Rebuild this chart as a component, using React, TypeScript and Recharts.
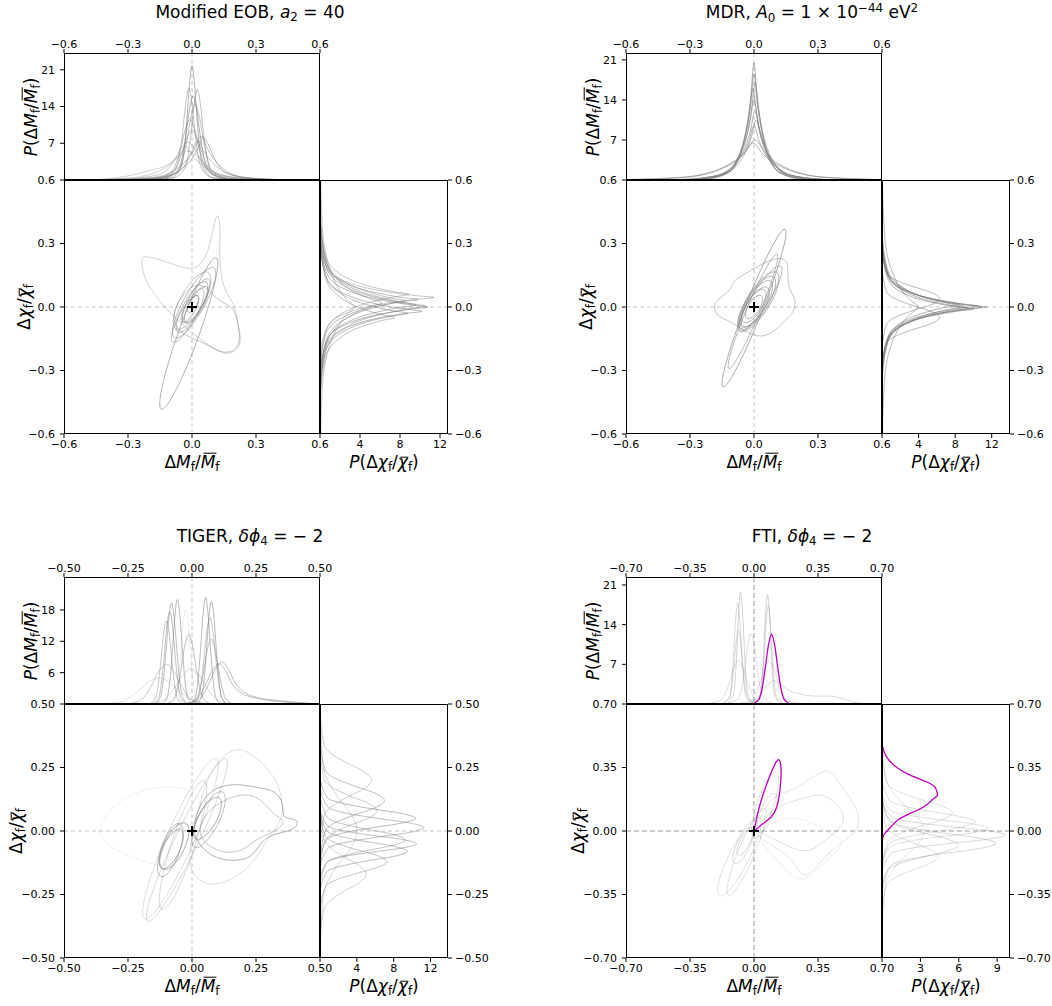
import React from "react";
import { ComposedChart, Scatter, XAxis, YAxis, ReferenceLine } from "recharts";

type Pt = [number, number];
type Curve = Pt[];

// ---------- Modified EOB, a2 = 40 ----------
const eobContours: Curve[] = [
  [[-0.24, 0.245], [-0.17, 0.23], [-0.08, 0.2], [0.0, 0.17], [0.07, 0.22], [0.105, 0.4], [0.12, 0.45], [0.135, 0.38], [0.125, 0.22], [0.15, 0.07], [0.2, 0.02], [0.215, -0.08], [0.235, -0.17], [0.2, -0.215], [0.14, -0.225], [0.05, -0.16], [-0.04, -0.09], [-0.12, -0.01], [-0.185, 0.07], [-0.225, 0.14], [-0.235, 0.2]],
  [[0.12, 0.25], [0.125, 0.19], [0.093, 0.048], [0.032, -0.142], [-0.041, -0.327], [-0.108, -0.458], [-0.15, -0.5], [-0.155, -0.44], [-0.123, -0.298], [-0.062, -0.108], [0.0115, 0.077], [0.078, 0.208]],
  [[0.112, 0.203], [0.116, 0.13], [0.058, -0.007], [-0.028, -0.128], [-0.092, -0.163], [-0.096, -0.09], [-0.038, 0.047], [0.048, 0.168]],
  [[0.083, 0.178], [0.095, 0.114], [0.052, 0.001], [-0.022, -0.095], [-0.083, -0.118], [-0.095, -0.054], [-0.052, 0.059], [0.022, 0.155]],
  [[0.073, 0.131], [0.079, 0.077], [0.039, -0.022], [-0.024, -0.108], [-0.073, -0.131], [-0.079, -0.077], [-0.039, 0.022], [0.024, 0.108]],
  [[0.074, 0.106], [0.08, 0.066], [0.051, -0.007], [0.004, -0.07], [-0.034, -0.086], [-0.04, -0.046], [-0.011, 0.027], [0.036, 0.09]],
  [[0.029, 0.06], [0.035, 0.03], [0.014, -0.024], [-0.021, -0.069], [-0.049, -0.08], [-0.055, -0.05], [-0.034, 0.004], [0.001, 0.049]],
  [[0.029, 0.059], [0.034, 0.039], [0.022, 0.005], [0.0, -0.023], [-0.019, -0.029], [-0.024, -0.009], [-0.012, 0.025], [0.01, 0.053]],
  [[-0.05, 0.05], [0.02, 0.12], [0.08, 0.08], [0.12, 0.03], [0.2, 0.0], [0.215, -0.08], [0.23, -0.16], [0.2, -0.21], [0.14, -0.22], [0.06, -0.17], [-0.02, -0.14], [-0.08, -0.1], [-0.09, -0.02]],
  [[0.083, 0.143], [0.089, 0.096], [0.055, 0.011], [0.0, -0.063], [-0.043, -0.083], [-0.049, -0.036], [-0.015, 0.049], [0.04, 0.123]],
  [[0.058, 0.1], [0.06, 0.046], [0.015, -0.059], [-0.05, -0.152], [-0.098, -0.18], [-0.1, -0.126], [-0.055, -0.021], [0.01, 0.072]],
];
const eobContourAlpha = [0.35, 0.6, 0.55, 0.45, 0.6, 0.55, 0.6, 0.6, 0.45, 0.55, 0.5];

const eobTop: Curve[] = [
  [[-0.2, 0], [-0.1, 0.4], [-0.05, 2.6], [-0.025, 10.9], [-0.0125, 18], [0, 21.8], [0.0125, 18], [0.025, 10.9], [0.05, 2.6], [0.1, 0.4], [0.2, 0]],
  [[-0.255, 0], [-0.135, 0.35], [-0.075, 2.1], [-0.045, 8.8], [-0.03, 14.5], [-0.015, 17.5], [0, 14.5], [0.015, 8.8], [0.045, 2.1], [0.105, 0.35], [0.225, 0]],
  [[-0.215, 0], [-0.095, 0.35], [-0.035, 2.1], [-0.005, 8.6], [0.01, 14.3], [0.025, 17.2], [0.04, 14.3], [0.055, 8.6], [0.085, 2.1], [0.145, 0.35], [0.265, 0]],
  [[-0.275, 0], [-0.135, 0.3], [-0.065, 1.9], [-0.03, 8], [-0.0125, 13.3], [0.005, 16], [0.0225, 13.3], [0.04, 8], [0.075, 1.9], [0.145, 0.3], [0.285, 0]],
  [[-0.3, 0], [-0.145, 0.3], [-0.065, 1.7], [-0.025, 7.2], [-0.005, 12], [0.015, 14.5], [0.035, 12], [0.055, 7.2], [0.095, 1.7], [0.175, 0.3], [0.33, 0]],
  [[-0.37, 0], [-0.19, 0.25], [-0.1, 1.4], [-0.055, 5.7], [-0.0325, 9.5], [-0.01, 11.5], [0.0125, 9.5], [0.035, 5.7], [0.08, 1.4], [0.17, 0.25], [0.35, 0]],
  [[-0.4, 0], [-0.195, 0.3], [-0.075, 1.2], [-0.015, 4.1], [0.015, 6.9], [0.045, 8.3], [0.075, 6.9], [0.105, 4.1], [0.165, 1.2], [0.285, 0.3], [0.5, 0]],
  [[-0.5, 0], [-0.28, 0.3], [-0.15, 1.1], [-0.085, 3.6], [-0.0525, 6], [-0.02, 7.2], [0.0125, 6], [0.045, 3.6], [0.11, 1.1], [0.24, 0.3], [0.45, 0]],
  [[-0.5, 0], [-0.34, 0.5], [-0.2, 1.8], [-0.1, 3.2], [-0.06, 4.6], [-0.02, 5.5], [0.02, 4.6], [0.06, 3], [0.14, 0.9], [0.28, 0.2], [0.45, 0]],
  [[-0.4, 0], [-0.2, 0.2], [-0.1, 1.1], [-0.05, 4.8], [-0.025, 7.9], [0, 9.5], [0.025, 7.9], [0.05, 4.8], [0.1, 1.1], [0.2, 0.2], [0.4, 0]],
  [[-0.41, 0], [-0.19, 0.47], [-0.08, 1.9], [-0.025, 3.75], [0.0025, 5.3], [0.01625, 6.3], [0.03, 7.5], [0.04375, 6.3], [0.0575, 5.3], [0.085, 3.75], [0.14, 1.9], [0.25, 0.47], [0.47, 0]],
  [[-0.55, 0], [-0.29, 0.4], [-0.16, 1.6], [-0.095, 3.25], [-0.0625, 4.6], [-0.04625, 5.5], [-0.03, 6.5], [-0.01375, 5.5], [0.0025, 4.6], [0.035, 3.25], [0.1, 1.6], [0.23, 0.4], [0.49, 0]],
  [[-0.35, 0], [-0.15, 0.5], [-0.05, 2.05], [0.0, 4.1], [0.025, 5.8], [0.0375, 6.9], [0.05, 8.2], [0.0625, 6.9], [0.075, 5.8], [0.1, 4.1], [0.15, 2.05], [0.25, 0.5], [0.45, 0]],
];
const eobTopAlpha = [0.6, 0.45, 0.5, 0.6, 0.5, 0.55, 0.5, 0.45, 0.35, 0.5, 0.45, 0.4, 0.5];

const eobSide: Curve[] = [
  [[-0.32, 0], [-0.16, 0.68], [-0.08, 2.7], [-0.04, 5.4], [-0.02, 7.7], [-0.01, 9.1], [0, 10.8], [0.01, 9.1], [0.02, 7.7], [0.04, 5.4], [0.08, 2.7], [0.16, 0.68], [0.32, 0]],
  [[-0.235, 0], [-0.095, 0.71], [-0.025, 2.85], [0.01, 5.7], [0.0275, 8.1], [0.03625, 9.6], [0.045, 11.4], [0.05375, 9.6], [0.0625, 8.1], [0.08, 5.7], [0.115, 2.85], [0.185, 0.71], [0.325, 0]],
  [[-0.39, 0], [-0.21, 0.55], [-0.12, 2.2], [-0.075, 4.4], [-0.0525, 6.2], [-0.04125, 7.4], [-0.03, 8.8], [-0.01875, 7.4], [-0.0075, 6.2], [0.015, 4.4], [0.06, 2.2], [0.15, 0.55], [0.33, 0]],
  [[-0.35, 0], [-0.17, 0.6], [-0.08, 2.4], [-0.035, 4.8], [-0.0125, 6.8], [-0.00125, 8.1], [0.01, 9.6], [0.02125, 8.1], [0.0325, 6.8], [0.055, 4.8], [0.1, 2.4], [0.19, 0.6], [0.37, 0]],
  [[-0.37, 0], [-0.17, 0.53], [-0.07, 2.1], [-0.02, 4.25], [0.005, 6], [0.0175, 7.1], [0.03, 8.5], [0.0425, 7.1], [0.055, 6], [0.08, 4.25], [0.13, 2.1], [0.23, 0.53], [0.43, 0]],
  [[-0.34, 0], [-0.18, 0.64], [-0.1, 2.55], [-0.06, 5.1], [-0.04, 7.2], [-0.03, 8.6], [-0.02, 10.2], [-0.01, 8.6], [0.0, 7.2], [0.02, 5.1], [0.06, 2.55], [0.14, 0.64], [0.3, 0]],
  [[-0.8, 0], [-0.4, 0.21], [-0.2, 0.85], [-0.1, 1.7], [-0.05, 2.4], [-0.025, 2.9], [0, 3.4], [0.025, 2.9], [0.05, 2.4], [0.1, 1.7], [0.2, 0.85], [0.4, 0.21], [0.8, 0]],
  [[-0.46, 0], [-0.22, 0.39], [-0.1, 1.55], [-0.04, 3.1], [-0.01, 4.4], [0.005, 5.2], [0.02, 6.2], [0.035, 5.2], [0.05, 4.4], [0.08, 3.1], [0.14, 1.55], [0.26, 0.39], [0.5, 0]],
  [[-0.45, 0], [-0.25, 0.47], [-0.15, 1.9], [-0.1, 3.75], [-0.075, 5.3], [-0.0625, 6.3], [-0.05, 7.5], [-0.0375, 6.3], [-0.025, 5.3], [0.0, 3.75], [0.05, 1.9], [0.15, 0.47], [0.35, 0]],
  [[-0.285, 0], [-0.125, 0.61], [-0.045, 2.45], [-0.005, 4.9], [0.015, 7], [0.025, 8.2], [0.035, 9.8], [0.045, 8.2], [0.055, 7], [0.075, 4.9], [0.115, 2.45], [0.195, 0.61], [0.355, 0]],
  [[-0.395, 0], [-0.195, 0.66], [-0.095, 2.6], [-0.045, 5.25], [-0.02, 7.5], [-0.0075, 8.8], [0.005, 10.5], [0.0175, 8.8], [0.03, 7.5], [0.055, 5.25], [0.105, 2.6], [0.205, 0.66], [0.405, 0]],
  [[-0.3, 0], [-0.12, 0.56], [-0.03, 2.2], [0.015, 4.45], [0.0375, 6.3], [0.04875, 7.5], [0.06, 8.9], [0.07125, 7.5], [0.0825, 6.3], [0.105, 4.45], [0.15, 2.2], [0.24, 0.56], [0.42, 0]],
];
const eobSideAlpha = [0.6, 0.45, 0.55, 0.55, 0.5, 0.55, 0.45, 0.45, 0.5, 0.5, 0.5, 0.45];

// ---------- MDR ----------
const mdrContours: Curve[] = [
  [[0.161, 0.408], [0.1435, 0.276], [0.042, -0.021], [-0.084, -0.308], [-0.161, -0.418], [-0.1435, -0.286], [-0.042, 0.011], [0.084, 0.298]],
  [[0.12, 0.28], [0.106, 0.183], [0.027, -0.033], [-0.071, -0.241], [-0.13, -0.32], [-0.116, -0.223], [-0.037, -0.007], [0.061, 0.201]],
  [[-0.193, 0.011], [-0.177, -0.044], [-0.107, -0.068], [-0.045, -0.116], [0.033, -0.148], [0.095, -0.116], [0.15, -0.06], [0.191, -0.02], [0.196, 0.043], [0.157, 0.09], [0.16, 0.17], [0.157, 0.225], [0.11, 0.233], [0.048, 0.21], [-0.045, 0.154], [-0.1, 0.125], [-0.107, 0.08], [-0.162, 0.043]],
  [[0.115, 0.178], [0.123, 0.111], [0.071, -0.007], [-0.011, -0.106], [-0.075, -0.128], [-0.083, -0.061], [-0.031, 0.057], [0.051, 0.156]],
  [[0.084, 0.134], [0.092, 0.081], [0.052, -0.011], [-0.013, -0.088], [-0.064, -0.104], [-0.072, -0.051], [-0.032, 0.041], [0.033, 0.118]],
  [[0.053, 0.09], [0.062, 0.05], [0.034, -0.016], [-0.013, -0.07], [-0.053, -0.08], [-0.062, -0.04], [-0.034, 0.026], [0.013, 0.08]],
  [[0.037, 0.059], [0.044, 0.03], [0.025, -0.016], [-0.008, -0.053], [-0.037, -0.059], [-0.044, -0.03], [-0.025, 0.016], [0.008, 0.053]],
  [[0.136, 0.21], [0.132, 0.143], [0.068, 0.016], [-0.018, -0.097], [-0.076, -0.13], [-0.072, -0.063], [-0.008, 0.064], [0.078, 0.177]],
  [[0.099, 0.156], [0.108, 0.096], [0.062, -0.009], [-0.011, -0.097], [-0.069, -0.116], [-0.078, -0.056], [-0.032, 0.049], [0.041, 0.137]],
  [[0.068, 0.102], [0.076, 0.055], [0.043, -0.024], [-0.013, -0.089], [-0.058, -0.102], [-0.066, -0.055], [-0.033, 0.024], [0.023, 0.089]],
];
const mdrContourAlpha = [0.65, 0.55, 0.45, 0.6, 0.6, 0.6, 0.6, 0.55, 0.6, 0.6];

const mdrTop: Curve[] = [
  [[-0.24, 0], [-0.12, 1.3], [-0.06, 5.1], [-0.03, 10.3], [-0.015, 14.6], [0, 20.5], [0.015, 14.6], [0.03, 10.3], [0.06, 5.1], [0.12, 1.3], [0.24, 0]],
  [[-0.256, 0], [-0.128, 1.2], [-0.064, 4.6], [-0.032, 9.3], [-0.016, 13.1], [0, 18.5], [0.016, 13.1], [0.032, 9.3], [0.064, 4.6], [0.128, 1.2], [0.256, 0]],
  [[-0.275, 0], [-0.135, 1.1], [-0.065, 4.3], [-0.03, 8.5], [-0.0125, 12.1], [0.005, 17], [0.0225, 12.1], [0.04, 8.5], [0.075, 4.3], [0.145, 1.1], [0.285, 0]],
  [[-0.285, 0], [-0.145, 1.0], [-0.075, 4], [-0.04, 8], [-0.0225, 11.4], [-0.005, 16], [0.0125, 11.4], [0.03, 8], [0.065, 4], [0.135, 1.0], [0.275, 0]],
  [[-0.32, 0], [-0.16, 0.9], [-0.08, 3.5], [-0.04, 7], [-0.02, 9.9], [0, 14], [0.02, 9.9], [0.04, 7], [0.08, 3.5], [0.16, 0.9], [0.32, 0]],
  [[-0.355, 0], [-0.175, 0.75], [-0.085, 3], [-0.04, 6], [-0.0175, 8.5], [0.005, 12], [0.0275, 8.5], [0.05, 6], [0.095, 3], [0.185, 0.75], [0.365, 0]],
  [[-0.4, 0], [-0.2, 0.6], [-0.1, 2.4], [-0.05, 4.75], [-0.025, 6.7], [0, 9.5], [0.025, 6.7], [0.05, 4.75], [0.1, 2.4], [0.2, 0.6], [0.4, 0]],
  [[-0.675, 0], [-0.335, 0.44], [-0.165, 1.75], [-0.08, 3.5], [-0.0375, 5], [0.005, 7], [0.0475, 5], [0.09, 3.5], [0.175, 1.75], [0.345, 0.44], [0.685, 0]],
  [[-0.725, 0], [-0.365, 0.4], [-0.185, 1.6], [-0.095, 3.25], [-0.05, 4.6], [-0.005, 6.5], [0.04, 4.6], [0.085, 3.25], [0.175, 1.6], [0.355, 0.4], [0.715, 0]],
  [[-0.35, 0], [-0.17, 0.66], [-0.08, 2.6], [-0.035, 5.25], [-0.0125, 7.5], [0.01, 10.5], [0.0325, 7.5], [0.055, 5.25], [0.1, 2.6], [0.19, 0.66], [0.37, 0]],
];
const mdrTopAlpha = [0.65, 0.6, 0.6, 0.6, 0.6, 0.6, 0.6, 0.55, 0.6, 0.6];

const mdrSide: Curve[] = [
  [[-0.28, 0], [-0.14, 0.72], [-0.07, 2.9], [-0.035, 5.75], [-0.0175, 8.2], [-0.00875, 9.7], [0, 11.5], [0.00875, 9.7], [0.0175, 8.2], [0.035, 5.75], [0.07, 2.9], [0.14, 0.72], [0.28, 0]],
  [[-0.291, 0], [-0.143, 0.66], [-0.069, 2.6], [-0.032, 5.25], [-0.0135, 7.5], [-0.00425, 8.8], [0.005, 10.5], [0.01425, 8.8], [0.0235, 7.5], [0.042, 5.25], [0.079, 2.6], [0.153, 0.66], [0.301, 0]],
  [[-0.325, 0], [-0.165, 0.6], [-0.085, 2.4], [-0.045, 4.75], [-0.025, 6.7], [-0.015, 8], [-0.005, 9.5], [0.005, 8], [0.015, 6.7], [0.035, 4.75], [0.075, 2.4], [0.155, 0.6], [0.315, 0]],
  [[-0.304, 0], [-0.152, 0.68], [-0.076, 2.7], [-0.038, 5.45], [-0.019, 7.7], [-0.0095, 9.2], [0, 10.9], [0.0095, 9.2], [0.019, 7.7], [0.038, 5.45], [0.076, 2.7], [0.152, 0.68], [0.304, 0]],
  [[-0.326, 0], [-0.158, 0.53], [-0.074, 2.1], [-0.032, 4.25], [-0.011, 6], [-0.0005, 7.1], [0.01, 8.5], [0.0205, 7.1], [0.031, 6], [0.052, 4.25], [0.094, 2.1], [0.178, 0.53], [0.346, 0]],
  [[-0.298, 0], [-0.154, 0.63], [-0.082, 2.5], [-0.046, 5], [-0.028, 7.1], [-0.019, 8.4], [-0.01, 10], [-0.001, 8.4], [0.008, 7.1], [0.026, 5], [0.062, 2.5], [0.134, 0.63], [0.278, 0]],
  [[-0.2, 0], [-0.08, 0.5], [-0.05, 1.4], [-0.02, 3.15], [0.01, 5.3], [0.04, 6.3], [0.07, 5.3], [0.1, 3.15], [0.13, 1.4], [0.16, 0.5], [0.28, 0]],
  [[-0.29, 0], [-0.17, 0.5], [-0.14, 1.4], [-0.11, 3.15], [-0.08, 5.3], [-0.05, 6.3], [-0.02, 5.3], [0.01, 3.15], [0.04, 1.4], [0.07, 0.5], [0.19, 0]],
  [[-0.72, 0], [-0.36, 0.25], [-0.18, 1], [-0.09, 2], [-0.045, 2.8], [-0.0225, 3.4], [0, 4], [0.0225, 3.4], [0.045, 2.8], [0.09, 2], [0.18, 1], [0.36, 0.25], [0.72, 0]],
  [[-0.357, 0], [-0.177, 0.56], [-0.087, 2.25], [-0.042, 4.5], [-0.0195, 6.4], [-0.00825, 7.6], [0.003, 9], [0.01425, 7.6], [0.0255, 6.4], [0.048, 4.5], [0.093, 2.25], [0.183, 0.56], [0.363, 0]],
];
const mdrSideAlpha = [0.6, 0.6, 0.6, 0.6, 0.6, 0.6, 0.55, 0.55, 0.55, 0.6];

// ---------- TIGER ----------
const tigerContours: Curve[] = [
  [[0.11, 0.32], [0.103, 0.2], [0.01, -0.054], [-0.116, -0.294], [-0.2, -0.38], [-0.193, -0.26], [-0.1, -0.006], [0.026, 0.234]],
  [[0.15, 0.32], [0.132, 0.2], [0.025, -0.057], [-0.108, -0.302], [-0.19, -0.39], [-0.172, -0.27], [-0.065, -0.013], [0.068, 0.232]],
  [[0.056, 0.226], [0.063, 0.133], [0.013, -0.07], [-0.065, -0.264], [-0.126, -0.336], [-0.133, -0.243], [-0.083, -0.04], [-0.005, 0.154]],
  [[-0.02, 0.04], [-0.006, -0.003], [-0.03, -0.08], [-0.077, -0.145], [-0.12, -0.16], [-0.134, -0.117], [-0.11, -0.04], [-0.063, 0.025]],
  [[-0.04, 0.015], [-0.029, -0.021], [-0.048, -0.085], [-0.086, -0.141], [-0.12, -0.155], [-0.131, -0.119], [-0.112, -0.055], [-0.074, 0.001]],
  [[-0.045, 0.04], [-0.03, -0.003], [-0.047, -0.088], [-0.086, -0.165], [-0.125, -0.19], [-0.14, -0.147], [-0.123, -0.062], [-0.084, 0.015]],
  [[0.11, 0.14], [0.12, 0.1], [0.095, 0.031], [0.049, -0.027], [0.01, -0.04], [0.0, 0.0], [0.025, 0.069], [0.071, 0.127]],
  [[0.125, 0.165], [0.136, 0.116], [0.105, 0.025], [0.051, -0.054], [0.005, -0.075], [-0.006, -0.026], [0.025, 0.065], [0.079, 0.144]],
  [[0.0, 0.0], [0.02, 0.08], [0.06, 0.15], [0.12, 0.18], [0.19, 0.185], [0.26, 0.17], [0.33, 0.16], [0.36, 0.1], [0.35, 0.05], [0.4, 0.05], [0.42, 0.03], [0.39, 0.0], [0.32, -0.01], [0.27, -0.04], [0.24, -0.1], [0.18, -0.12], [0.09, -0.11], [0.03, -0.06]],
  [[0.02, 0.0], [0.06, 0.08], [0.12, 0.12], [0.2, 0.15], [0.27, 0.13], [0.32, 0.06], [0.37, 0.04], [0.33, 0.0], [0.25, -0.03], [0.2, -0.08], [0.12, -0.09], [0.05, -0.05]],
  [[0.0, -0.02], [0.05, 0.2], [0.12, 0.3], [0.18, 0.33], [0.24, 0.3], [0.29, 0.25], [0.33, 0.2], [0.35, 0.14], [0.36, 0.05], [0.3, -0.02], [0.24, -0.13], [0.15, -0.2], [0.05, -0.22], [-0.02, -0.15]],
  [[-0.38, 0.0], [-0.3, 0.12], [-0.15, 0.18], [0.0, 0.17], [0.05, 0.1], [0.02, -0.05], [-0.08, -0.15], [-0.2, -0.12], [-0.33, -0.06]],
];
const tigerContourAlpha = [0.25, 0.3, 0.3, 0.65, 0.6, 0.55, 0.6, 0.5, 0.6, 0.45, 0.25, 0.12];

const tigerTop: Curve[] = [
  [[-0.146, 0], [-0.124, 1.2], [-0.113, 4.05], [-0.102, 9.65], [-0.091, 16.2], [-0.08, 19.3], [-0.069, 16.2], [-0.058, 9.65], [-0.047, 4.05], [-0.036, 1.2], [-0.014, 0]],
  [[-0.117, 0], [-0.097, 1.25], [-0.087, 4.2], [-0.077, 10], [-0.067, 16.8], [-0.057, 20], [-0.047, 16.8], [-0.037, 10], [-0.027, 4.2], [-0.017, 1.25], [0.003, 0]],
  [[-0.166, 0], [-0.144, 1.0], [-0.133, 3.3], [-0.122, 7.95], [-0.111, 13.4], [-0.1, 15.9], [-0.089, 13.4], [-0.078, 7.95], [-0.067, 3.3], [-0.056, 1.0], [-0.034, 0]],
  [[-0.153, 0], [-0.131, 1.1], [-0.12, 3.7], [-0.109, 8.85], [-0.098, 14.9], [-0.087, 17.7], [-0.076, 14.9], [-0.065, 8.85], [-0.054, 3.7], [-0.043, 1.1], [-0.021, 0]],
  [[-0.085, 0], [-0.065, 1.1], [-0.055, 3.8], [-0.045, 9], [-0.035, 15.1], [-0.025, 18], [-0.015, 15.1], [-0.005, 9], [0.005, 3.8], [0.015, 1.1], [0.035, 0]],
  [[-0.103, 0], [-0.073, 0.83], [-0.058, 2.8], [-0.043, 6.65], [-0.028, 11.2], [-0.013, 13.3], [0.002, 11.2], [0.017, 6.65], [0.032, 2.8], [0.047, 0.83], [0.077, 0]],
  [[-0.265, 0], [-0.21, 0.48], [-0.1825, 1.6], [-0.155, 3.8], [-0.1275, 6.4], [-0.1, 7.6], [-0.0725, 6.4], [-0.045, 3.8], [-0.0175, 1.6], [0.01, 0.48], [0.065, 0]],
  [[-0.007, 0], [0.013, 1.3], [0.023, 4.3], [0.033, 10.2], [0.043, 17.1], [0.053, 20.4], [0.063, 17.1], [0.073, 10.2], [0.083, 4.3], [0.093, 1.3], [0.113, 0]],
  [[0.016, 0], [0.036, 1.2], [0.046, 4.1], [0.056, 9.8], [0.066, 16.5], [0.076, 19.6], [0.086, 16.5], [0.096, 9.8], [0.106, 4.1], [0.116, 1.2], [0.136, 0]],
  [[-0.002, 0], [0.022, 1.0], [0.034, 3.5], [0.046, 8.25], [0.058, 13.9], [0.07, 16.5], [0.082, 13.9], [0.094, 8.25], [0.106, 3.5], [0.118, 1.0], [0.142, 0]],
  [[-0.015, 0], [0.015, 0.78], [0.03, 2.6], [0.045, 6.2], [0.06, 10.4], [0.075, 12.4], [0.09, 10.4], [0.105, 6.2], [0.12, 2.6], [0.135, 0.78], [0.165, 0]],
  [[-0.03, 0], [0.017, 0.5], [0.042, 1.7], [0.067, 4], [0.092, 6.7], [0.117, 8], [0.142, 6.7], [0.167, 4.2], [0.2, 2.4], [0.26, 1.2], [0.35, 0.6], [0.45, 0.15], [0.5, 0]],
  [[-0.045, 0], [0.005, 0.5], [0.03, 1.6], [0.055, 3.9], [0.08, 6.5], [0.105, 7.7], [0.13, 6.5], [0.155, 4], [0.19, 2.2], [0.25, 1.1], [0.34, 0.5], [0.45, 0.1], [0.5, 0]],
  [[-0.185, 0], [-0.125, 0.42], [-0.095, 1.4], [-0.065, 3.35], [-0.035, 5.6], [-0.005, 6.7], [0.025, 5.6], [0.055, 3.35], [0.085, 1.4], [0.115, 0.42], [0.175, 0]],
  [[-0.37, 0], [-0.29, 0.31], [-0.25, 1.05], [-0.21, 2.5], [-0.17, 4.2], [-0.13, 5], [-0.09, 4.2], [-0.05, 2.5], [-0.01, 1.05], [0.03, 0.31], [0.11, 0]],
];
const tigerTopAlpha = [0.5, 0.55, 0.45, 0.5, 0.15, 0.5, 0.4, 0.55, 0.55, 0.45, 0.5, 0.5, 0.5, 0.3, 0.25];

const tigerSide: Curve[] = [
  [[-0.147, 0], [-0.067, 0.9], [-0.047, 2.5], [-0.027, 5.65], [-0.007, 9.5], [0.013, 11.3], [0.033, 9.5], [0.053, 5.65], [0.073, 2.5], [0.093, 0.9], [0.173, 0]],
  [[-0.11, 0], [-0.03, 0.83], [-0.01, 2.3], [0.01, 5.2], [0.03, 8.7], [0.05, 10.4], [0.07, 8.7], [0.09, 5.2], [0.11, 2.3], [0.13, 0.83], [0.21, 0]],
  [[-0.215, 0], [-0.125, 0.74], [-0.1025, 2.05], [-0.08, 4.65], [-0.0575, 7.8], [-0.035, 9.3], [-0.0125, 7.8], [0.01, 4.65], [0.0325, 2.05], [0.055, 0.74], [0.145, 0]],
  [[-0.24, 0], [-0.16, 0.76], [-0.14, 2.1], [-0.12, 4.75], [-0.1, 8], [-0.08, 9.5], [-0.06, 8], [-0.04, 4.75], [-0.02, 2.1], [0.0, 0.76], [0.08, 0]],
  [[-0.32, 0], [-0.22, 0.58], [-0.195, 1.6], [-0.17, 3.65], [-0.145, 6.1], [-0.12, 7.3], [-0.095, 6.1], [-0.07, 3.65], [-0.045, 1.6], [-0.02, 0.58], [0.08, 0]],
  [[-0.08, 0], [0.06, 0.45], [0.095, 1.2], [0.13, 2.8], [0.165, 4.7], [0.2, 5.6], [0.235, 4.7], [0.27, 2.8], [0.305, 1.2], [0.34, 0.45], [0.48, 0]],
  [[-0.12, 0], [0.0, 0.56], [0.03, 1.5], [0.06, 3.5], [0.09, 5.9], [0.12, 7], [0.15, 5.9], [0.18, 3.5], [0.21, 1.5], [0.24, 0.56], [0.36, 0]],
  [[-0.45, 0], [-0.31, 0.4], [-0.275, 1.1], [-0.24, 2.5], [-0.205, 4.2], [-0.17, 5], [-0.135, 4.2], [-0.1, 2.5], [-0.065, 1.1], [-0.03, 0.4], [0.11, 0]],
  [[-0.5, 0.02], [-0.26, 0.32], [-0.195, 0.9], [-0.13, 2], [-0.065, 3.4], [0, 4], [0.065, 3.4], [0.13, 2], [0.195, 0.9], [0.26, 0.32], [0.5, 0.02]],
  [[-0.16, 0], [-0.04, 0.5], [-0.01, 1.4], [0.02, 3.1], [0.05, 5.2], [0.08, 6.2], [0.11, 5.2], [0.14, 3.1], [0.17, 1.4], [0.2, 0.5], [0.32, 0]],
  [[-0.19, 0], [-0.12, 0.84], [-0.1025, 2.3], [-0.085, 5.25], [-0.0675, 8.8], [-0.05, 10.5], [-0.0325, 8.8], [-0.015, 5.25], [0.0025, 2.3], [0.02, 0.84], [0.09, 0]],
];
const tigerSideAlpha = [0.5, 0.55, 0.45, 0.5, 0.45, 0.4, 0.5, 0.35, 0.3, 0.4, 0.5];

// ---------- FTI ----------
const ftiContours: Curve[] = [
  [[0.04, 0.1], [0.043, 0.011], [-0.026, -0.167], [-0.127, -0.329], [-0.2, -0.38], [-0.203, -0.291], [-0.134, -0.113], [-0.033, 0.049]],
  [[0.07, 0.15], [0.07, 0.059], [0.006, -0.134], [-0.085, -0.316], [-0.15, -0.38], [-0.15, -0.289], [-0.086, -0.096], [0.005, 0.086]],
  [[-0.01, 0.03], [0.001, -0.014], [-0.024, -0.097], [-0.07, -0.17], [-0.11, -0.19], [-0.121, -0.146], [-0.096, -0.063], [-0.05, 0.01]],
  [[-0.01, 0.02], [-0.003, -0.013], [-0.023, -0.073], [-0.059, -0.126], [-0.09, -0.14], [-0.097, -0.107], [-0.077, -0.047], [-0.041, 0.006]],
  [[0.125, 0.34], [0.14, 0.271], [0.108, 0.125], [0.048, -0.012], [-0.005, -0.06], [-0.02, 0.009], [0.012, 0.155], [0.072, 0.292]],
  [[0.12, 0.22], [0.132, 0.174], [0.107, 0.085], [0.061, 0.005], [0.02, -0.02], [0.008, 0.026], [0.033, 0.115], [0.079, 0.195]],
  [[0.0, 0.0], [0.05, 0.12], [0.12, 0.2], [0.2, 0.22], [0.3, 0.28], [0.4, 0.35], [0.44, 0.3], [0.5, 0.22], [0.56, 0.13], [0.58, 0.05], [0.55, -0.02], [0.45, -0.08], [0.38, -0.15], [0.3, -0.25], [0.25, -0.24], [0.2, -0.14], [0.1, -0.08], [0.03, -0.04]],
  [[0.02, 0.02], [0.08, 0.1], [0.16, 0.15], [0.24, 0.17], [0.32, 0.2], [0.4, 0.2], [0.48, 0.12], [0.5, 0.05], [0.45, 0.0], [0.38, -0.06], [0.3, -0.12], [0.22, -0.1], [0.12, -0.05], [0.05, -0.02]],
  [[0.02, -0.02], [0.1, 0.05], [0.2, 0.08], [0.32, 0.05], [0.42, -0.02], [0.5, -0.05], [0.45, -0.12], [0.35, -0.2], [0.28, -0.28], [0.2, -0.25], [0.12, -0.15], [0.05, -0.08]],
];
const ftiContourAlpha = [0.25, 0.25, 0.3, 0.3, 0.25, 0.25, 0.2, 0.25, 0.15];
const ftiHiContour: Curve = [[0, 0], [0, 0], [0.02, 0.1], [0.04, 0.175], [0.07, 0.26], [0.1, 0.34], [0.125, 0.39], [0.14, 0.4], [0.15, 0.35], [0.147, 0.27], [0.135, 0.16], [0.11, 0.09], [0.07, 0.055], [0.04, 0.035], [0.015, 0.01]];

const ftiTop: Curve[] = [
  [[-0.153, 0], [-0.113, 1.6], [-0.103, 4.3], [-0.093, 9.85], [-0.083, 16.5], [-0.073, 19.7], [-0.063, 16.5], [-0.053, 9.85], [-0.043, 4.3], [-0.033, 1.6], [0.007, 0]],
  [[-0.177, 0], [-0.133, 1.4], [-0.122, 3.9], [-0.111, 8.9], [-0.1, 15], [-0.089, 17.8], [-0.078, 15], [-0.067, 8.9], [-0.056, 3.9], [-0.045, 1.4], [-0.001, 0]],
  [[-0.185, 0], [-0.135, 1.0], [-0.1225, 2.9], [-0.11, 6.5], [-0.0975, 10.9], [-0.085, 13], [-0.0725, 10.9], [-0.06, 6.5], [-0.0475, 2.9], [-0.035, 1.0], [0.015, 0]],
  [[-0.285, 0], [-0.185, 0.6], [-0.16, 1.7], [-0.135, 3.8], [-0.11, 6.4], [-0.085, 7.6], [-0.06, 6.4], [-0.035, 3.8], [-0.01, 1.7], [0.015, 0.6], [0.115, 0]],
  [[-0.156, 0], [-0.086, 1.0], [-0.0685, 2.7], [-0.051, 6.2], [-0.0335, 10.4], [-0.016, 12.4], [0.0015, 10.4], [0.019, 6.2], [0.0365, 2.7], [0.054, 1.0], [0.124, 0]],
  [[-0.006, 0], [0.034, 1.5], [0.044, 4.2], [0.054, 9.65], [0.064, 16.2], [0.074, 19.3], [0.084, 16.2], [0.094, 9.65], [0.104, 4.2], [0.114, 1.5], [0.154, 0]],
  [[-0.01, 0], [0.034, 1.4], [0.045, 3.8], [0.056, 8.7], [0.067, 14.6], [0.078, 17.4], [0.089, 14.6], [0.1, 8.7], [0.111, 3.8], [0.122, 1.4], [0.166, 0]],
  [[-0.117, 0], [-0.017, 0.6], [0.008, 1.7], [0.033, 3.8], [0.058, 6.4], [0.083, 7.6], [0.108, 6.4], [0.133, 3.8], [0.158, 1.7], [0.183, 0.6], [0.283, 0]],
  [[-0.07, 0], [-0.01, 0.4], [0.02, 1.2], [0.05, 2.3], [0.08, 3.5], [0.11, 4.1], [0.14, 3.6], [0.18, 2.6], [0.25, 1.8], [0.33, 1.4], [0.42, 1.4], [0.48, 1.0], [0.55, 0.3], [0.62, 0]],
];
const ftiTopAlpha = [0.35, 0.3, 0.3, 0.25, 0.25, 0.35, 0.3, 0.25, 0.3];
const ftiHiTop: Curve = [[-0.009, 0], [0.026, 0.77], [0.0435, 2.6], [0.061, 6.15], [0.0785, 10.3], [0.096, 12.3], [0.1135, 10.3], [0.131, 6.15], [0.1485, 2.6], [0.166, 0.77], [0.201, 0]];

const ftiSide: Curve[] = [
  [[-0.222, 0], [-0.122, 0.77], [-0.097, 2.1], [-0.072, 4.83], [-0.047, 8.1], [-0.022, 9.66], [0.003, 8.1], [0.028, 4.83], [0.053, 2.1], [0.078, 0.77], [0.178, 0]],
  [[-0.308, 0], [-0.188, 0.71], [-0.158, 1.96], [-0.128, 4.45], [-0.098, 7.5], [-0.068, 8.9], [-0.038, 7.5], [-0.008, 4.45], [0.022, 1.96], [0.052, 0.71], [0.172, 0]],
  [[-0.185, 0], [-0.085, 0.66], [-0.06, 1.8], [-0.035, 4.15], [-0.01, 7], [0.015, 8.3], [0.04, 7], [0.065, 4.15], [0.09, 1.8], [0.115, 0.66], [0.215, 0]],
  [[-0.19, 0], [-0.07, 0.58], [-0.04, 1.6], [-0.01, 3.65], [0.02, 6.1], [0.05, 7.3], [0.08, 6.1], [0.11, 3.65], [0.14, 1.6], [0.17, 0.58], [0.29, 0]],
  [[-0.357, 0], [-0.217, 0.48], [-0.182, 1.3], [-0.147, 3], [-0.112, 5], [-0.077, 6], [-0.042, 5], [-0.007, 3], [0.028, 1.3], [0.063, 0.48], [0.203, 0]],
  [[-0.46, 0], [-0.3, 0.35], [-0.26, 0.97], [-0.22, 2.2], [-0.18, 3.7], [-0.14, 4.4], [-0.1, 3.7], [-0.06, 2.2], [-0.02, 0.97], [0.02, 0.35], [0.18, 0]],
  [[-0.22, 0], [-0.06, 0.44], [-0.02, 1.2], [0.02, 2.75], [0.06, 4.6], [0.1, 5.5], [0.14, 4.6], [0.18, 2.75], [0.22, 1.2], [0.26, 0.44], [0.42, 0]],
  [[-0.6, 0], [-0.3, 0.26], [-0.225, 0.73], [-0.15, 1.65], [-0.075, 2.8], [0, 3.3], [0.075, 2.8], [0.15, 1.65], [0.225, 0.73], [0.3, 0.26], [0.6, 0]],
];
const ftiSideAlpha = [0.3, 0.3, 0.25, 0.25, 0.3, 0.25, 0.25, 0.2];
const ftiHiSide: Curve = [[-0.08, 0], [-0.03, 0.08], [0.0, 0.4], [0.03, 0.8], [0.061, 1.24], [0.09, 2.0], [0.116, 2.8], [0.145, 3.5], [0.171, 3.9], [0.199, 4.34], [0.225, 4.25], [0.245, 4.1], [0.27, 3.5], [0.29, 2.8], [0.315, 2.0], [0.346, 1.24], [0.39, 0.55], [0.43, 0.2], [0.48, 0]];

// shared
const origin: Pt[] = [[0, 0]];
const ticks06 = [-0.6, -0.3, 0, 0.3, 0.6];
const ticks05 = [-0.5, -0.25, 0, 0.25, 0.5];
const ticks07 = [-0.7, -0.35, 0, 0.35, 0.7];

const FONT = '"DejaVu Sans", "Liberation Sans", sans-serif';
const PAD = 60;
const MAGENTA = "#bf00bf";

const NoDot = () => <g />;
const PlusMark = (p: any) => (
  <g>
    <line x1={p.cx - 5} y1={p.cy} x2={p.cx + 5} y2={p.cy} stroke="#000" strokeWidth={2} />
    <line x1={p.cx} y1={p.cy - 5} x2={p.cx} y2={p.cy + 5} stroke="#000" strokeWidth={2} />
  </g>
);

const It = ({ children }: { children: React.ReactNode }) => <span style={{ fontStyle: "italic" }}>{children}</span>;
const Sb = ({ children }: { children: React.ReactNode }) => (
  <span style={{ fontSize: "70%", verticalAlign: "-0.28em", fontStyle: "normal" }}>{children}</span>
);
const Sp = ({ children }: { children: React.ReactNode }) => (
  <span style={{ fontSize: "70%", verticalAlign: "0.55em" }}>{children}</span>
);
const Ov = ({ children, top }: { children: React.ReactNode; top: string }) => (
  <span style={{ position: "relative", display: "inline-block" }}>
    {children}
    <span style={{ position: "absolute", left: "22%", right: "-6%", top, borderTop: "1.3px solid #000" }} />
  </span>
);

const dM = (
  <>
    Δ<It>M</It><Sb>f</Sb>/<It><Ov top="0.08em">M</Ov></It><Sb>f</Sb>
  </>
);
const dChi = (
  <>
    Δ<It>χ</It><Sb>f</Sb>/<It><Ov top="0.3em">χ</Ov></It><Sb>f</Sb>
  </>
);

function Txt(props: { cx: number; cy: number; rot?: boolean; size: number; children: React.ReactNode }) {
  return (
    <div
      style={{
        position: "absolute",
        left: props.cx,
        top: props.cy,
        transform: `translate(-50%, -50%)${props.rot ? " rotate(-90deg)" : ""}`,
        whiteSpace: "nowrap",
        fontSize: props.size,
        lineHeight: 1.2,
        color: "#000",
      }}
    >
      {props.children}
    </div>
  );
}

function Plot(props: {
  x: number; y: number; w: number; h: number;
  xDom: [number, number]; yDom: [number, number];
  xTicks: number[]; yTicks: number[];
  xSide: "top" | "bottom"; ySide: "left" | "right";
  fx: (v: number) => string; fy: (v: number) => string;
  children: React.ReactNode;
}) {
  const { x, y, w, h, xSide, ySide } = props;
  const margin = {
    top: xSide === "top" ? 0 : PAD,
    bottom: xSide === "bottom" ? 0 : PAD,
    left: ySide === "left" ? 0 : PAD,
    right: ySide === "right" ? 0 : PAD,
  };
  const tick = { fontSize: 11, fill: "#000", fontFamily: FONT };
  return (
    <>
      <div style={{ position: "absolute", left: x - PAD, top: y - PAD }}>
        <ComposedChart width={w + 2 * PAD} height={h + 2 * PAD} margin={margin}>
          <XAxis
            type="number" dataKey="x" domain={props.xDom} allowDataOverflow ticks={props.xTicks} interval={0}
            orientation={xSide} height={PAD} axisLine={false} tickLine={{ stroke: "#000" }} tickSize={4}
            tickMargin={xSide === "top" ? 1 : 2} tick={tick} tickFormatter={props.fx}
          />
          <YAxis
            type="number" dataKey="y" domain={props.yDom} allowDataOverflow ticks={props.yTicks} interval={0}
            orientation={ySide} width={PAD} axisLine={false} tickLine={{ stroke: "#000" }} tickSize={4}
            tickMargin={ySide === "left" ? 5 : 3} tick={tick} tickFormatter={props.fy}
          />
          {props.children}
        </ComposedChart>
      </div>
      <div
        style={{
          position: "absolute", left: x, top: y, width: w, height: h,
          border: "1px solid #000", boxSizing: "border-box", pointerEvents: "none",
        }}
      />
    </>
  );
}

type PanelProps = {
  x: number; y: number;
  title: React.ReactNode;
  lim: number; ticks: number[]; dec: number;
  topMax: number; topTicks: number[];
  sideMax: number; sideTicks: number[];
  contours: Curve[]; contourAlpha: number[];
  top: Curve[]; topAlpha: number[];
  side: Curve[]; sideAlpha: number[];
  hiContour?: Curve; hiTop?: Curve; hiSide?: Curve;
  gray: string; guide: string; dash: string;
  ylabDx: number;
};

function Panel(p: PanelProps) {
  const W = 256, H = 254, TH = 127, SW = 128;
  const dom: [number, number] = [-p.lim, p.lim];
  const fmt = (v: number) => v.toFixed(p.dec).replace("-", "\u2212");
  const fint = (v: number) => String(v);
  const ln = (c: string, a: number, w = 1) => ({ stroke: c, strokeOpacity: a, strokeWidth: w });
  const xy = (c: Curve) => c.map(([a, b]) => ({ x: a, y: b }));
  const yx = (c: Curve) => c.map(([a, b]) => ({ x: b, y: a }));
  return (
    <>
      <Txt cx={p.x + 186} cy={p.y - TH - 40} size={17}>{p.title}</Txt>

      <Plot x={p.x} y={p.y - TH} w={W} h={TH} xDom={dom} yDom={[0, p.topMax]} xTicks={p.ticks} yTicks={p.topTicks}
        xSide="top" ySide="left" fx={fmt} fy={fint}>
        <ReferenceLine x={0} stroke={p.guide} strokeDasharray={p.dash} />
        {p.top.map((c, i) => (
          <Scatter key={"t" + i} data={xy(c)} shape={NoDot} line={ln(p.gray, p.topAlpha[i])}
            lineJointType="monotoneX" isAnimationActive={false} />
        ))}
        {p.hiTop ? (
          <Scatter data={xy(p.hiTop)} shape={NoDot} line={ln(MAGENTA, 1, 1.3)} lineJointType="monotoneX" isAnimationActive={false} />
        ) : null}
      </Plot>

      <Plot x={p.x} y={p.y} w={W} h={H} xDom={dom} yDom={dom} xTicks={p.ticks} yTicks={p.ticks}
        xSide="bottom" ySide="left" fx={fmt} fy={fmt}>
        <ReferenceLine x={0} stroke={p.guide} strokeDasharray={p.dash} />
        <ReferenceLine y={0} stroke={p.guide} strokeDasharray={p.dash} />
        {p.contours.map((c, i) => (
          <Scatter key={"c" + i} data={xy(c)} shape={NoDot} line={ln(p.gray, p.contourAlpha[i])}
            lineJointType="basisClosed" isAnimationActive={false} />
        ))}
        {p.hiContour ? (
          <Scatter data={xy(p.hiContour)} shape={NoDot} line={ln(MAGENTA, 1, 1.3)} lineJointType="basisClosed" isAnimationActive={false} />
        ) : null}
        <Scatter data={xy(origin)} shape={PlusMark} isAnimationActive={false} />
      </Plot>

      <Plot x={p.x + W} y={p.y} w={SW} h={H} xDom={[0, p.sideMax]} yDom={dom} xTicks={p.sideTicks} yTicks={p.ticks}
        xSide="bottom" ySide="right" fx={fint} fy={fmt}>
        <ReferenceLine y={0} stroke={p.guide} strokeDasharray={p.dash} />
        {p.side.map((c, i) => (
          <Scatter key={"s" + i} data={yx(c)} shape={NoDot} line={ln(p.gray, p.sideAlpha[i])}
            lineJointType="monotoneY" isAnimationActive={false} />
        ))}
        {p.hiSide ? (
          <Scatter data={yx(p.hiSide)} shape={NoDot} line={ln(MAGENTA, 1, 1.3)} lineJointType="monotoneY" isAnimationActive={false} />
        ) : null}
      </Plot>

      <Txt cx={p.x + W / 2} cy={p.y + H + 29} size={17}>{dM}</Txt>
      <Txt cx={p.x + W + SW / 2} cy={p.y + H + 29} size={17}>
        <It>P</It>({dChi})
      </Txt>
      <Txt cx={p.x - p.ylabDx} cy={p.y + H / 2} size={17} rot>{dChi}</Txt>
      <Txt cx={p.x - 32} cy={p.y - TH / 2} size={17} rot>
        <It>P</It>({dM})
      </Txt>
    </>
  );
}

export default function App() {
  const gray = "#7f7f7f";
  return (
    <div style={{ position: "absolute", left: 0, top: 0, width: 1052, height: 1006, background: "#fff", fontFamily: FONT }}>
      <Panel
        x={64} y={180}
        title={<>Modified EOB, <It>a</It><Sb>2</Sb> = 40</>}
        lim={0.6} ticks={ticks06} dec={1}
        topMax={24.2} topTicks={[7, 14, 21]}
        sideMax={12.8} sideTicks={[4, 8, 12]}
        contours={eobContours} contourAlpha={eobContourAlpha}
        top={eobTop} topAlpha={eobTopAlpha}
        side={eobSide} sideAlpha={eobSideAlpha}
        gray={gray} guide="#c4c4c4" dash="4 3" ylabDx={39}
      />
      <Panel
        x={626} y={180}
        title={<>MDR, <It>A</It><Sb>0</Sb> = 1 × 10<Sp>−44</Sp> eV<Sp>2</Sp></>}
        lim={0.6} ticks={ticks06} dec={1}
        topMax={22.2} topTicks={[7, 14, 21]}
        sideMax={14} sideTicks={[4, 8, 12]}
        contours={mdrContours} contourAlpha={mdrContourAlpha}
        top={mdrTop} topAlpha={mdrTopAlpha}
        side={mdrSide} sideAlpha={mdrSideAlpha}
        gray={gray} guide="#c4c4c4" dash="4 3" ylabDx={39}
      />
      <Panel
        x={64} y={704}
        title={<>TIGER, <It>δϕ</It><Sb>4</Sb> = − 2</>}
        lim={0.5} ticks={ticks05} dec={2}
        topMax={24.3} topTicks={[6, 12, 18]}
        sideMax={13.9} sideTicks={[4, 8, 12]}
        contours={tigerContours} contourAlpha={tigerContourAlpha}
        top={tigerTop} topAlpha={tigerTopAlpha}
        side={tigerSide} sideAlpha={tigerSideAlpha}
        gray={gray} guide="#c4c4c4" dash="4 3" ylabDx={47}
      />
      <Panel
        x={626} y={704}
        title={<>FTI, <It>δϕ</It><Sb>4</Sb> = − 2</>}
        lim={0.7} ticks={ticks07} dec={2}
        topMax={22.4} topTicks={[7, 14, 21]}
        sideMax={10} sideTicks={[3, 6, 9]}
        contours={ftiContours} contourAlpha={ftiContourAlpha}
        top={ftiTop} topAlpha={ftiTopAlpha}
        side={ftiSide} sideAlpha={ftiSideAlpha}
        hiContour={ftiHiContour} hiTop={ftiHiTop} hiSide={ftiHiSide}
        gray={gray} guide="#9a9a9a" dash="5 3" ylabDx={47}
      />
    </div>
  );
}
